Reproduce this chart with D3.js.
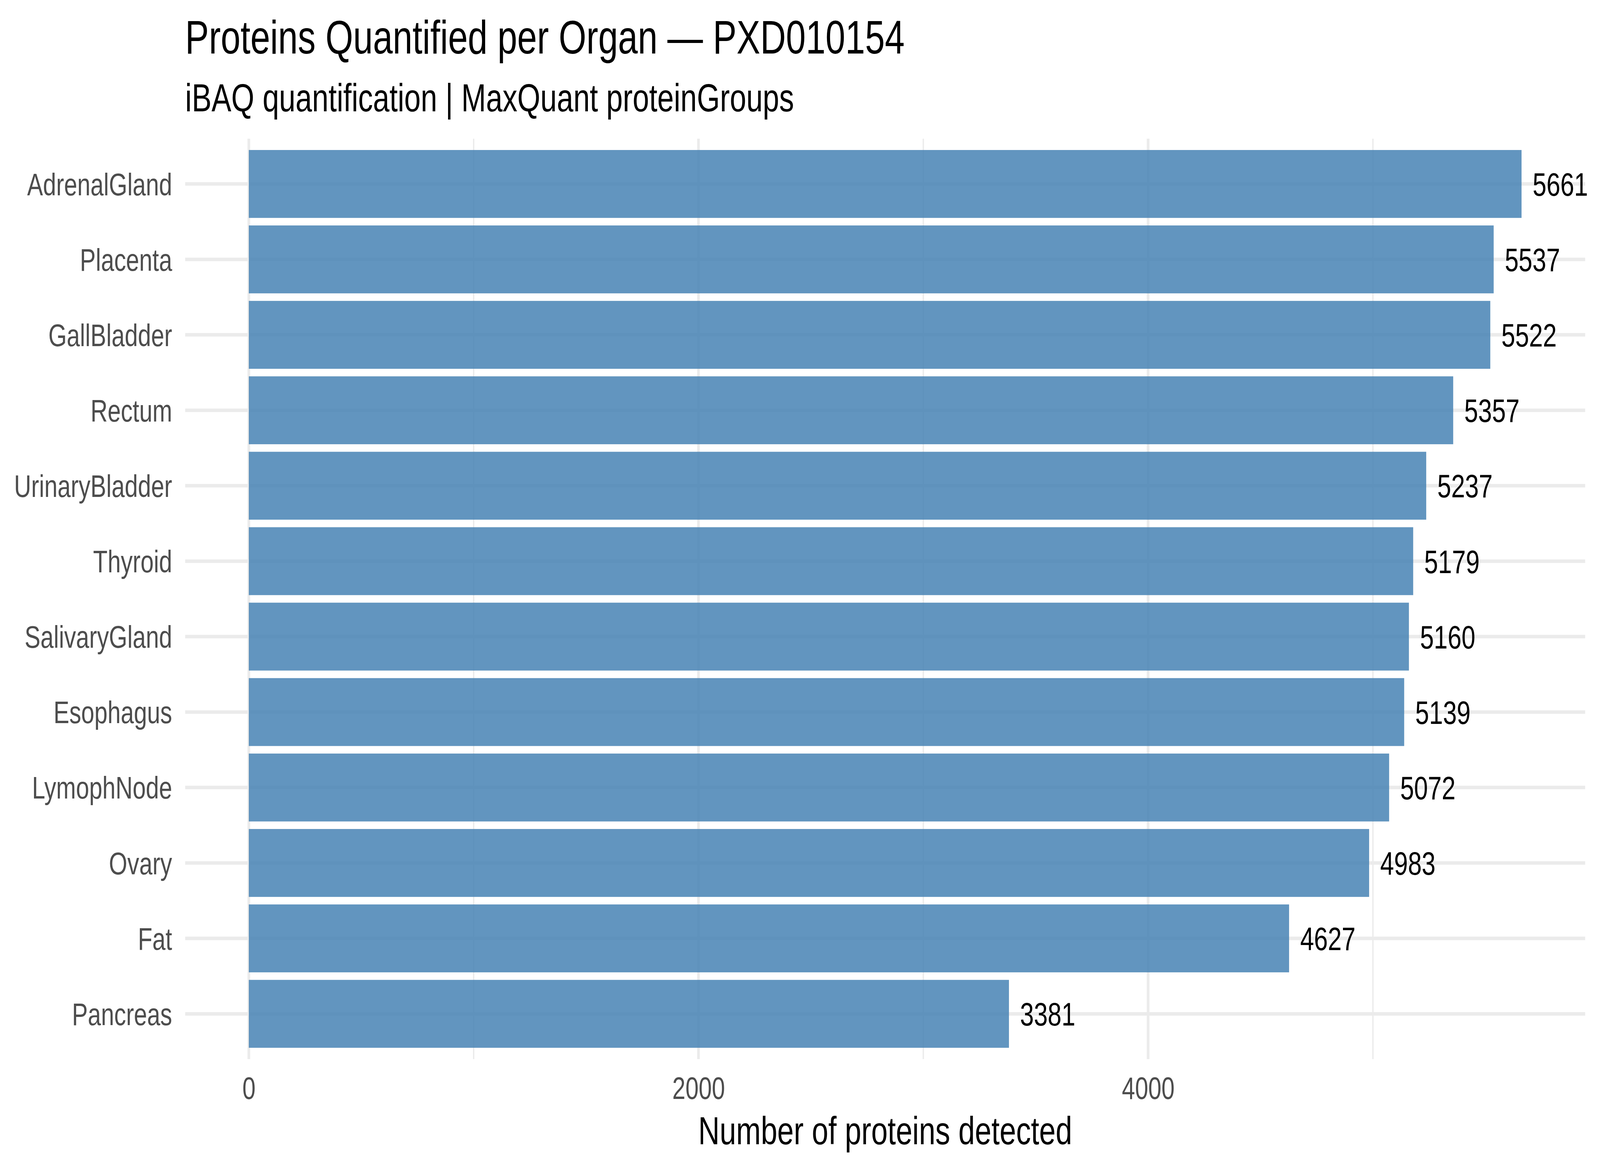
<!DOCTYPE html>
<html>
<head>
<meta charset="utf-8">
<script src="https://cdn.jsdelivr.net/npm/d3@7"></script>
<style>
  html, body { margin: 0; padding: 0; background: #ffffff; overflow: hidden; width: 100%; height: 100%; }
  svg { display: block; position: absolute; left: 0; top: 0; }
  text { font-family: "Liberation Sans", Arial, Helvetica, sans-serif; }
</style>
</head>
<body>
<script>
// ---- data ----
const organs = ["AdrenalGland", "Placenta", "GallBladder", "Rectum", "UrinaryBladder", "Thyroid",
                "SalivaryGland", "Esophagus", "LymophNode", "Ovary", "Fat", "Pancreas"];
const proteinCounts = [5661, 5537, 5522, 5357, 5237, 5179, 5160, 5139, 5072, 4983, 4627, 3381];
const majorTicks = [0, 2000, 4000];
const minorTicks = [1000, 3000, 5000];
const titleText = "Proteins Quantified per Organ \u2014 PXD010154";
const subtitleText = "iBAQ quantification | MaxQuant proteinGroups";
const xAxisTitle = "Number of proteins detected";

// ---- layout (design space 5400 x 3000, scaled to the window) ----
const W = 5400, H = 3000;
const panel = { left: 625, right: 5350, top: 355, bottom: 2711 };
const grid = "#EBEBEB";

const rows = organs.map((o, i) => ({ organ: o, value: proteinCounts[i] }));
const maxV = d3.max(proteinCounts);

const x = d3.scaleLinear()
  .domain([-0.05 * maxV, 1.05 * maxV])
  .range([panel.left, panel.right]);

const y = d3.scaleBand()
  .domain(organs)
  .range([panel.top, panel.bottom])
  .paddingInner(0.1)
  .paddingOuter(0.15);

const svg = d3.select("body").append("svg")
  .attr("width", "100%").attr("height", "100%")
  .attr("viewBox", `0 0 ${W} ${H}`)
  .attr("preserveAspectRatio", "none");

svg.append("rect").attr("width", W).attr("height", H).attr("fill", "#ffffff");

// ---- grid ----
const gGrid = svg.append("g");
gGrid.selectAll("line.minor").data(minorTicks).join("line")
  .attr("class", "minor")
  .attr("x1", d => x(d)).attr("x2", d => x(d))
  .attr("y1", panel.top).attr("y2", panel.bottom)
  .attr("stroke", grid).attr("stroke-width", 4.5);
gGrid.selectAll("line.majorx").data(majorTicks).join("line")
  .attr("class", "majorx")
  .attr("x1", d => x(d)).attr("x2", d => x(d))
  .attr("y1", panel.top).attr("y2", panel.bottom)
  .attr("stroke", grid).attr("stroke-width", 9);
gGrid.selectAll("line.majory").data(organs).join("line")
  .attr("class", "majory")
  .attr("x1", panel.left).attr("x2", panel.right)
  .attr("y1", d => y(d) + y.bandwidth() / 2).attr("y2", d => y(d) + y.bandwidth() / 2)
  .attr("stroke", grid).attr("stroke-width", 9);

// ---- bars ----
svg.append("g").selectAll("rect").data(rows).join("rect")
  .attr("x", x(0))
  .attr("y", d => y(d.organ))
  .attr("width", d => x(d.value) - x(0))
  .attr("height", y.bandwidth())
  .attr("fill", "steelblue")
  .attr("fill-opacity", 0.85);

// ---- value labels (hjust = -0.2) ----
const labelSize = 84;
const gLab = svg.append("g");
gLab.selectAll("text").data(rows).join("text")
  .attr("x", d => x(d.value))
  .attr("y", d => y(d.organ) + y.bandwidth() / 2 + 0.358 * labelSize)
  .attr("font-size", labelSize)
  .attr("fill", "#000000")
  .text(d => String(d.value))
  .each(function () {
    const w = this.getComputedTextLength();
    d3.select(this).attr("x", +d3.select(this).attr("x") + 0.2 * w);
  });

// ---- axes ----
const gx = svg.append("g").attr("transform", `translate(0,${panel.bottom})`)
  .call(d3.axisBottom(x).tickValues(majorTicks).tickSize(0).tickPadding(45).tickFormat(d3.format("d")));
gx.select(".domain").remove();
gx.selectAll("text").attr("font-size", 80).attr("fill", "#4D4D4D")
  .attr("font-family", "Liberation Sans, Arial, sans-serif");

const gy = svg.append("g").attr("transform", `translate(${panel.left},0)`)
  .call(d3.axisLeft(y).tickSize(0).tickPadding(44));
gy.select(".domain").remove();
gy.selectAll("text").attr("font-size", 80).attr("fill", "#4D4D4D").attr("dy", "0.358em")
  .attr("font-family", "Liberation Sans, Arial, sans-serif");

// ---- titles ----
svg.append("text").attr("x", panel.left).attr("y", 137)
  .attr("font-size", 120).attr("fill", "#000000").text(titleText);
svg.append("text").attr("x", panel.left).attr("y", 285)
  .attr("font-size", 100).attr("fill", "#000000").text(subtitleText);
svg.append("text").attr("x", (panel.left + panel.right) / 2).attr("y", 2929)
  .attr("text-anchor", "middle")
  .attr("font-size", 100).attr("fill", "#000000").text(xAxisTitle);
</script>
</body>
</html>
